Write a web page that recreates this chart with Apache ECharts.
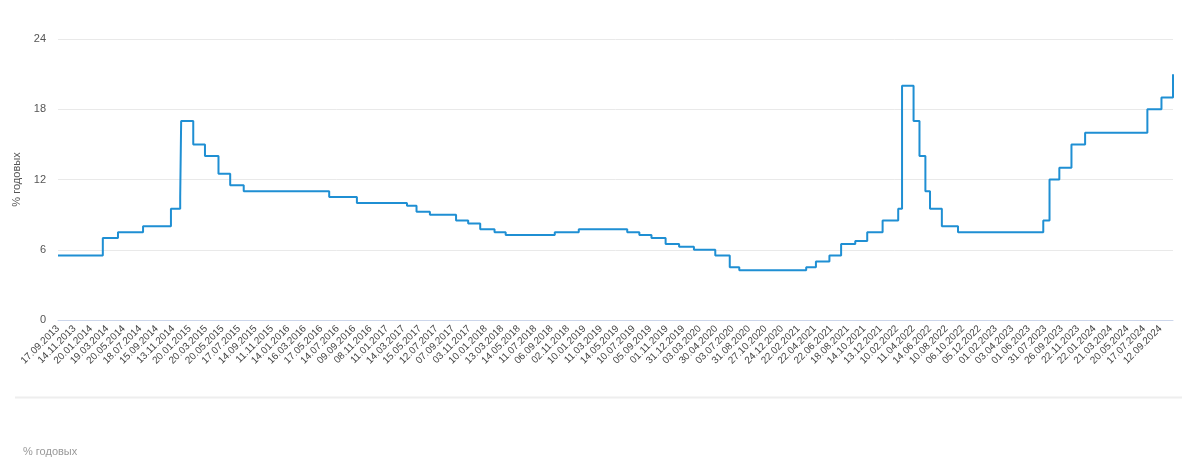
<!DOCTYPE html>
<html>
<head>
<meta charset="utf-8">
<script src="https://cdn.jsdelivr.net/npm/echarts@6/dist/echarts.min.js"></script>
<style>
html,body{margin:0;padding:0;background:#fff;}
#chart{width:1200px;height:468px;}
</style>
</head>
<body>
<div id="chart"></div>
<script>
// X-axis tick labels (as shown in the reference)
var tickLabels = ['17.09.2013','14.11.2013','20.01.2014','19.03.2014','20.05.2014','18.07.2014','15.09.2014','13.11.2014','20.01.2015','20.03.2015','20.05.2015','17.07.2015','14.09.2015','11.11.2015','14.01.2016','16.03.2016','17.05.2016','14.07.2016','09.09.2016','08.11.2016','11.01.2017','14.03.2017','15.05.2017','12.07.2017','07.09.2017','03.11.2017','10.01.2018','13.03.2018','14.05.2018','11.07.2018','06.09.2018','02.11.2018','10.01.2019','11.03.2019','14.05.2019','10.07.2019','05.09.2019','01.11.2019','31.12.2019','03.03.2020','30.04.2020','03.07.2020','31.08.2020','27.10.2020','24.12.2020','22.02.2021','22.04.2021','22.06.2021','18.08.2021','14.10.2021','13.12.2021','10.02.2022','11.04.2022','14.06.2022','10.08.2022','06.10.2022','05.12.2022','01.02.2023','03.04.2023','01.06.2023','31.07.2023','26.09.2023','22.11.2023','22.01.2024','21.03.2024','20.05.2024','17.07.2024','12.09.2024'];

// Rate change dates and values (% годовых)
var changeDates = ['17.09.2013','03.03.2014','28.04.2014','28.07.2014','05.11.2014','12.12.2014','16.12.2014','02.02.2015','16.03.2015','05.05.2015','16.06.2015','03.08.2015','14.06.2016','19.09.2016','27.03.2017','02.05.2017','19.06.2017','18.09.2017','30.10.2017','18.12.2017','12.02.2018','26.03.2018','17.09.2018','17.12.2018','17.06.2019','29.07.2019','09.09.2019','28.10.2019','16.12.2019','10.02.2020','27.04.2020','22.06.2020','27.07.2020','22.03.2021','26.04.2021','15.06.2021','26.07.2021','13.09.2021','25.10.2021','20.12.2021','14.02.2022','28.02.2022','11.04.2022','04.05.2022','27.05.2022','14.06.2022','25.07.2022','19.09.2022','24.07.2023','15.08.2023','18.09.2023','30.10.2023','18.12.2023','29.07.2024','16.09.2024','28.10.2024'];
var rates = [5.5,7,7.5,8,9.5,10.5,17,15,14,12.5,11.5,11,10.5,10,9.75,9.25,9,8.5,8.25,7.75,7.5,7.25,7.5,7.75,7.5,7.25,7,6.5,6.25,6,5.5,4.5,4.25,4.5,5,5.5,6.5,6.75,7.5,8.5,9.5,20,17,14,11,9.5,8,7.5,8.5,12,13,15,16,18,19,21];

var yTicks = [0, 6, 12, 18, 24];
var seriesName = '% годовых';

function parseD(s){ var p = s.split('.'); return Date.UTC(+p[2], +p[1]-1, +p[0]); }
var tickTimes = tickLabels.map(parseD);
var avgSpan = (tickTimes[tickTimes.length-1] - tickTimes[0]) / (tickTimes.length-1);
// position of a date along the label slots of the axis
function slotOf(s){
  var t = parseD(s);
  for (var i = 0; i < tickTimes.length-1; i++){
    if (t >= tickTimes[i] && t < tickTimes[i+1]) return i + (t - tickTimes[i]) / (tickTimes[i+1] - tickTimes[i]);
  }
  if (t < tickTimes[0]) return 0;
  return tickTimes.length-1 + (t - tickTimes[tickTimes.length-1]) / avgSpan;
}
var data = changeDates.map(function(d, i){ return [slotOf(d), rates[i]]; });
var xMax = slotOf(changeDates[changeDates.length-1]);

var chart = echarts.init(document.getElementById('chart'), null, {renderer:'canvas'});
chart.setOption({
  animation: false,
  backgroundColor: '#ffffff',
  textStyle: {fontFamily: 'Liberation Sans, Arial, sans-serif'},
  grid: {left: 58, right: 27, top: 39, bottom: 148, containLabel: false},
  xAxis: {
    type: 'value', min: 0, max: xMax, interval: 1,
    axisLine: {show: true, lineStyle: {color: '#ccd6eb', width: 1}},
    axisTick: {show: false},
    splitLine: {show: false},
    axisLabel: {
      rotate: 45, fontSize: 10, color: '#444', margin: 7,
      showMaxLabel: false,
      formatter: function(v){ return (Math.abs(v - Math.round(v)) < 1e-9 && tickLabels[Math.round(v)]) ? tickLabels[Math.round(v)] : ''; }
    }
  },
  yAxis: {
    type: 'value', min: yTicks[0], max: yTicks[yTicks.length-1], interval: yTicks[1]-yTicks[0],
    name: seriesName, nameLocation: 'middle', nameGap: 34,
    nameTextStyle: {color: '#555', fontSize: 11},
    axisLine: {show: false}, axisTick: {show: false},
    axisLabel: {fontSize: 11, color: '#555', margin: 12},
    splitLine: {lineStyle: {color: '#e9e9e9', width: 1}}
  },
  series: [{
    name: seriesName, type: 'line', step: 'end', data: data,
    showSymbol: false, symbol: 'none',
    lineStyle: {color: '#1f8fd3', width: 2},
    itemStyle: {color: '#1f8fd3'}
  }],
  graphic: [
    {type: 'line', shape: {x1: 15, y1: 397.5, x2: 1182, y2: 397.5}, style: {stroke: '#eeeeee', lineWidth: 2}, silent: true},
    {type: 'text', left: 23, top: 446, style: {text: seriesName, fill: '#999', fontSize: 11, fontFamily: 'Liberation Sans, Arial, sans-serif'}, silent: true}
  ]
});
</script>
</body>
</html>
